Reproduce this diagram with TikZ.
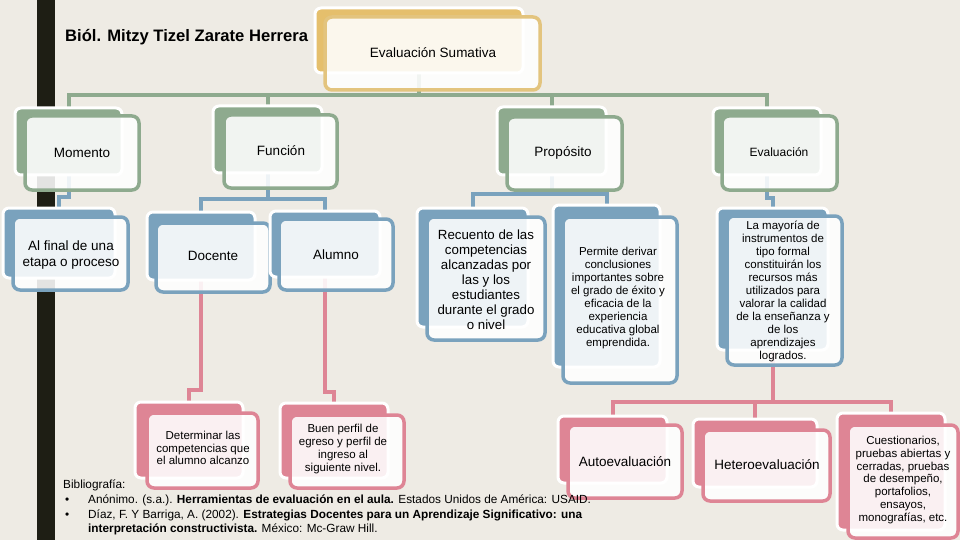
\documentclass[tikz,border=0pt]{standalone}
\usepackage{fontspec}
\setmainfont{Liberation Sans}
\usetikzlibrary{calc}
\definecolor{bgc}{HTML}{EEEBE4}
\definecolor{barc}{HTML}{1E1E14}
\definecolor{cgreen}{HTML}{8EAA8E}
\definecolor{cgreenB}{HTML}{8EAA8E}
\definecolor{cblue}{HTML}{7AA2BD}
\definecolor{cblueB}{HTML}{7AA2BD}
\definecolor{cpink}{HTML}{DE8595}
\definecolor{cpinkB}{HTML}{DE8595}
\definecolor{cgoldB}{HTML}{E5BF6C}
\definecolor{cgold}{HTML}{E3C47E}
\pgfdeclarelayer{barl}
\pgfdeclarelayer{conn}
\pgfsetlayers{barl,conn,main}
\newcommand\fA{\fontsize{13.5}{16}\selectfont}
\newcommand\fR{\fontsize{13.3}{15}\selectfont}
\newcommand\fC{\fontsize{12}{14}\selectfont}
\newcommand\fB{\fontsize{11.5}{13}\selectfont}
\newcommand\fD{\fontsize{11.5}{12.7}\selectfont}
\tikzset{
  backbox/.style={fill=#1, draw=white, line width=3pt, rounded corners=6pt},
  frontbox/.style={fill=white, fill opacity=0.88, draw=#1, draw opacity=1, line width=3.5pt, rounded corners=7pt},
  boxtext/.style={align=center, inner sep=0pt, text=black},
  conline/.style={draw=#1, line width=4pt},
  bib/.style={inner sep=0pt, text=black, font=\fontsize{11.8}{13}\selectfont},
}
% #1 name, #2 colour scheme, #3 font, #4 back c1, #5 back c2, #6 front c1, #7 front c2, #8 text pos, #9 text
\newcommand\cbx[9]{%
  \path[backbox=#2B] (#4) rectangle (#5);
  \coordinate (#1B) at ($(#4)!0.5!(#5)$);
  \path[frontbox=#2] (#6) rectangle (#7);
  \node[boxtext, font=#3] (#1) at (#8) {#9};
}
\begin{document}
\begin{tikzpicture}[x=1pt,y=-1pt]
\useasboundingbox (0,0) rectangle (960,540);
\begin{pgfonlayer}{barl}
  \fill[bgc] (0,0) rectangle (960,540);
  \fill[barc] (37,0) rectangle (55,540);
\end{pgfonlayer}

\node[anchor=west, inner sep=0pt, font=\bfseries\fontsize{16.6}{18}\selectfont] (title) at (65,37) {Biól. Mitzy Tizel Zarate Herrera};

% level 1
\cbx{evs}{cgold}{\fA}{315,8}{523,73}{325,17}{540,90}{433,53}{Evaluación Sumativa}
% level 2
\cbx{mom}{cgreen}{\fA}{15,108}{122,175}{25,116}{139,190}{82,153}{Momento}
\cbx{fun}{cgreen}{\fA}{213,106}{322,173}{224,115}{337,188}{281,151}{Función}
\cbx{pro}{cgreen}{\fA}{497,107}{606,175}{507,117}{622,190}{563,153}{Propósito}
\cbx{eva}{cgreen}{\fC}{713,108}{821,175}{722,116}{837,190}{779,152}{Evaluación}
% level 3
\cbx{alf}{cblue}{\fA}{3,208}{115,278}{13,217}{128,290}{71,255}{Al final de una\\ etapa o proceso}
\cbx{doc}{cblue}{\fA}{147,212}{255,280}{156,223}{270,292}{213,256}{Docente}
\cbx{alu}{cblue}{\fA}{270,211}{380,277}{279,219}{393,290}{336,255}{Alumno}
\cbx{rec}{cblue}{\fR}{417,208}{528,327}{427,217}{545,340}{486,280}{Recuento de las\\ competencias\\ alcanzadas por\\ las y los\\ estudiantes\\ durante el grado\\ o nivel}
\cbx{per}{cblue}{\fB}{553,205}{660,367}{563,217}{677,383}{618,298}{Permite derivar\\ conclusiones\\ importantes sobre\\ el grado de éxito y\\ eficacia de la\\ experiencia\\ educativa global\\ emprendida.}
\cbx{may}{cblue}{\fB}{717,208}{828,350}{727,216}{842,365}{783,291}{La mayoría de\\ instrumentos de\\ tipo formal\\ constituirán los\\ recursos más\\ utilizados para\\ valorar la calidad\\ de la enseñanza y\\ de los\\ aprendizajes\\ logrados.}
% level 4
\cbx{det}{cpink}{\fD}{135,402}{243,478}{147,413}{258,488}{203,448}{Determinar las\\ competencias que\\ el alumno alcanzo}
\cbx{bue}{cpink}{\fD}{280,403}{388,478}{290,415}{404,488}{343,449}{Buen perfil de\\ egreso y perfil de\\ ingreso al\\ siguiente nivel.}
\cbx{aut}{cpink}{\fA}{558,416}{667,483}{568,425}{682,498}{625,462}{Autoevaluación}
\cbx{het}{cpink}{\fA}{693,419}{817,487}{703,430}{830,501}{767,465}{Heteroevaluación}
\cbx{cue}{cpink}{\fD}{837,413}{945,530}{848,425}{958,538}{903,480}{Cuestionarios,\\ pruebas abiertas y\\ cerradas, pruebas\\ de desempeño,\\ portafolios,\\ ensayos,\\ monografías, etc.}

% bus heights
\coordinate (gbus) at (0,95);
\coordinate (bmom) at (0,197);
\coordinate (bfun) at (0,199);
\coordinate (bpro) at (0,194);
\coordinate (beva) at (0,198);
\coordinate (pdoc) at (0,390);
\coordinate (palu) at (0,392);
\coordinate (pmay) at (0,402);

\begin{pgfonlayer}{conn}
  \draw[conline=cgreen] (evsB) -- (evsB |- gbus) -| (momB);
  \draw[conline=cgreen] (evsB) -- (evsB |- gbus) -| (funB);
  \draw[conline=cgreen] (evsB) -- (evsB |- gbus) -| (proB);
  \draw[conline=cgreen] (evsB) -- (evsB |- gbus) -| (evaB);
  \draw[conline=cblue] (momB) -- (momB |- bmom) -| (alfB);
  \draw[conline=cblue] (funB) -- (funB |- bfun) -| (docB);
  \draw[conline=cblue] (funB) -- (funB |- bfun) -| (aluB);
  \draw[conline=cblue] (proB) -- (proB |- bpro) -| (recB);
  \draw[conline=cblue] (proB) -- (proB |- bpro) -| (perB);
  \draw[conline=cblue] (evaB) -- (evaB |- beva) -| (mayB);
  \draw[conline=cpink] (docB) -- (docB |- pdoc) -| (detB);
  \draw[conline=cpink] (aluB) -- (aluB |- palu) -| (bueB);
  \draw[conline=cpink] (mayB) -- (mayB |- pmay) -| (autB);
  \draw[conline=cpink] (mayB) -- (mayB |- pmay) -| (hetB);
  \draw[conline=cpink] (mayB) -- (mayB |- pmay) -| (cueB);
\end{pgfonlayer}

% bibliography
\node[bib, anchor=base west] (b0) at (63,488) {Bibliografía:};
\node[bib, anchor=base west] (b1d) at (65,503) {•};
\node[bib, anchor=base west] (b1) at (88,503) {Anónimo. (s.a.). \textbf{Herramientas de evaluación en el aula.} Estados Unidos de América: USAID.};
\node[bib, anchor=base west] (b2d) at (65,518) {•};
\node[bib, anchor=base west] (b2) at (88,518) {Díaz, F. Y Barriga, A. (2002). \textbf{Estrategias Docentes para un Aprendizaje Significativo: una}};
\node[bib, anchor=base west] (b3) at (88,532) {\textbf{interpretación constructivista.} México: Mc-Graw Hill.};
\end{tikzpicture}
\end{document}
